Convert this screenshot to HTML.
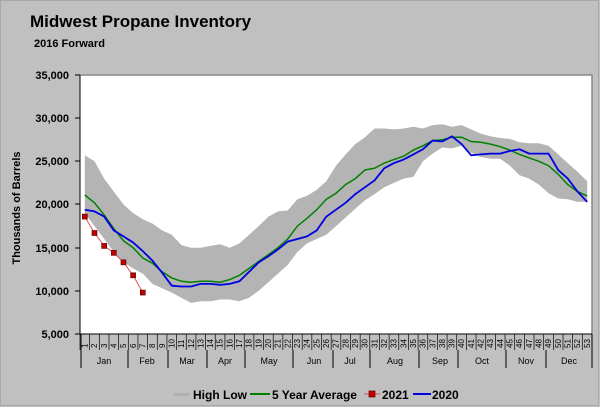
<!DOCTYPE html>
<html><head><meta charset="utf-8"><style>
html,body{margin:0;padding:0;background:#c0c0c0;}
svg{display:block;font-family:"Liberation Sans",Arial,sans-serif;}
</style></head><body>
<svg id="s" width="600" height="407" xmlns="http://www.w3.org/2000/svg">
<rect x="0" y="0" width="600" height="407" fill="#c0c0c0"/>
<rect x="0.5" y="0.5" width="598" height="405" fill="none" stroke="#a8a8a8"/>
<text x="30" y="27" font-size="17" font-weight="bold" fill="#000">Midwest Propane Inventory</text>
<text x="34" y="47" font-size="11" font-weight="bold" fill="#000">2016 Forward</text>
<rect x="80" y="75" width="512" height="259" fill="#fff"/>
<polyline points="80,75 592,75 592,334" fill="none" stroke="#888" stroke-width="1.5"/>
<line x1="80" y1="75" x2="80" y2="334" stroke="#000"/>
<line x1="80" y1="334" x2="592" y2="334" stroke="#000"/>
<g font-size="11" font-weight="bold" text-anchor="end" fill="#000">
<text x="69" y="79">35,000</text><text x="69" y="122">30,000</text><text x="69" y="165">25,000</text><text x="69" y="208">20,000</text><text x="69" y="252">15,000</text><text x="69" y="295">10,000</text><text x="69" y="338">5,000</text>
</g>
<g stroke="#000"><line x1="75" y1="75" x2="80" y2="75"/><line x1="75" y1="118" x2="80" y2="118"/><line x1="75" y1="161" x2="80" y2="161"/><line x1="75" y1="204" x2="80" y2="204"/><line x1="75" y1="248" x2="80" y2="248"/><line x1="75" y1="291" x2="80" y2="291"/><line x1="75" y1="334" x2="80" y2="334"/></g>
<text transform="translate(20,208) rotate(-90)" font-size="11" font-weight="bold" text-anchor="middle">Thousands of Barrels</text>
<g id="data"></g>
<g id="ticks" font-size="8" fill="#000"></g>
<g font-size="9" text-anchor="middle" fill="#000">
<text x="104" y="364">Jan</text><text x="147" y="364">Feb</text><text x="187" y="364">Mar</text><text x="225" y="364">Apr</text><text x="269" y="364">May</text><text x="314" y="364">Jun</text><text x="350" y="364">Jul</text><text x="395" y="364">Aug</text><text x="440" y="364">Sep</text><text x="482" y="364">Oct</text><text x="526" y="364">Nov</text><text x="569" y="364">Dec</text>
</g>
<g stroke="#000"><line x1="81" y1="334" x2="81" y2="368"/><line x1="128" y1="350" x2="128" y2="368"/><line x1="168" y1="350" x2="168" y2="368"/><line x1="207" y1="350" x2="207" y2="368"/><line x1="245" y1="350" x2="245" y2="368"/><line x1="293" y1="350" x2="293" y2="368"/><line x1="333" y1="350" x2="333" y2="368"/><line x1="370" y1="350" x2="370" y2="368"/><line x1="419" y1="350" x2="419" y2="368"/><line x1="458" y1="350" x2="458" y2="368"/><line x1="506" y1="350" x2="506" y2="368"/><line x1="546" y1="350" x2="546" y2="368"/><line x1="592" y1="334" x2="592" y2="368"/></g>
<g font-size="12" font-weight="bold" fill="#000">
<rect x="174" y="393" width="16" height="3" fill="#b0b0b0"/>
<text x="193" y="399">High Low</text>
<line x1="250" y1="394" x2="270" y2="394" stroke="#008000" stroke-width="2"/>
<text x="272" y="399">5 Year Average</text>
<line x1="364" y1="394" x2="380" y2="394" stroke="#e05050" stroke-width="1"/>
<rect x="369" y="391" width="6" height="6" fill="#c00000" stroke="#600" stroke-width="0.7"/>
<text x="382" y="399">2021</text>
<line x1="413" y1="394" x2="431" y2="394" stroke="#0000e0" stroke-width="2"/>
<text x="432" y="399">2020</text>
</g>
</svg>
<script>
var hi=[25.7,25,23,21.5,20,19,18.3,17.8,17,16.5,15.3,15,15,15.2,15.4,15,15.5,16.5,17.5,18.6,19.2,19.3,20.6,21,21.7,22.7,24.5,25.8,27,27.8,28.8,28.8,28.7,28.8,29,28.8,29.2,29.3,29,29.2,28.7,28.2,27.9,27.7,27.6,27.2,27.1,27.1,26.8,25.8,24.8,23.8,22.7];
var lo=[19,17.5,16,14.5,13.3,12.6,12,10.8,10.3,9.8,9.2,8.6,8.8,8.8,9,9,8.8,9.2,10,11,12,13,14.5,15.5,16,16.5,17.5,18.5,19.5,20.5,21.2,22,22.5,23,23.2,25,25.9,26.6,26.5,26.8,26,25.5,25.3,25.3,24.5,23.4,23,22.3,21.3,20.7,20.6,20.3,20.3];
var av=[21.1,20.2,18.8,17.2,15.8,15,13.8,13.2,12.2,11.5,11.1,11,11.1,11.1,11,11.3,11.8,12.6,13.4,14.2,15,16,17.5,18.4,19.4,20.6,21.3,22.3,23,24,24.2,24.8,25.2,25.6,26.3,26.8,27.4,27.5,27.8,27.8,27.3,27.2,27,26.7,26.3,25.8,25.4,25,24.5,23.5,22.3,21.5,21];
var y20=[19.4,19.2,18.6,17,16.3,15.6,14.6,13.5,12.1,10.6,10.5,10.5,10.8,10.8,10.7,10.8,11.1,12.2,13.3,14,14.8,15.7,16,16.3,17,18.6,19.4,20.2,21.2,22,22.8,24.2,24.8,25.2,25.8,26.4,27.4,27.3,27.9,27,25.7,25.8,25.9,25.9,26.2,26.4,25.9,25.9,25.9,24,23,21.5,20.3];
var y21=[18.6,16.7,15.2,14.4,13.3,11.8,9.8];
function X(i){return 80+9.66*(i+0.5);}function Y(v){return 334-(v-5)*8.633;}
function pts(a){return a.map(function(v,i){return X(i).toFixed(1)+","+Y(v).toFixed(1)}).join(" ");}
var NS="http://www.w3.org/2000/svg",g=document.getElementById("data");
function el(t,at){var e=document.createElementNS(NS,t);for(var k in at)e.setAttribute(k,at[k]);g.appendChild(e);return e;}
var band=pts(hi)+" "+lo.map(function(v,i){return X(i).toFixed(1)+","+Y(v).toFixed(1)}).reverse().join(" ");
el("polygon",{points:band,fill:"#b4b4b4"});
el("polyline",{points:pts(av),fill:"none",stroke:"#008000","stroke-width":1.5});
el("polyline",{points:pts(y20),fill:"none",stroke:"#0000e0","stroke-width":1.8});
el("polyline",{points:pts(y21),fill:"none",stroke:"#e05050","stroke-width":1});
y21.forEach(function(v,i){el("rect",{x:X(i)-2.5,y:Y(v)-2.5,width:5,height:5,fill:"#c00000",stroke:"#500","stroke-width":0.6});});
var t=document.getElementById("ticks");
for(var i=0;i<53;i++){var x=80+9.66*i;
 var l=document.createElementNS(NS,"line");l.setAttribute("x1",x);l.setAttribute("x2",x);l.setAttribute("y1",334);l.setAttribute("y2",350);l.setAttribute("stroke","#000");l.setAttribute("stroke-width","0.7");t.appendChild(l);
 var tx=document.createElementNS(NS,"text");tx.setAttribute("transform","translate("+(x+7.5)+",348) rotate(-90)");tx.textContent=(i+1);t.appendChild(tx);}
</script>
</body></html>
